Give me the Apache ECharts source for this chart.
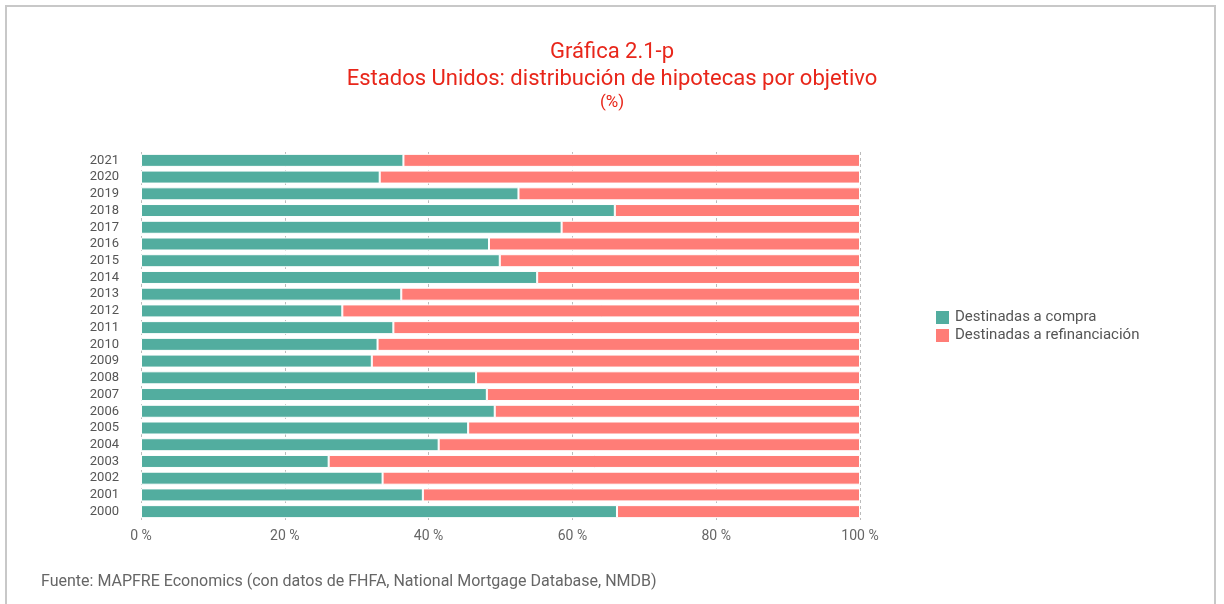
<!DOCTYPE html>
<html><head><meta charset="utf-8">
<script src="https://cdn.jsdelivr.net/npm/echarts@6/dist/echarts.min.js"></script>
<style>html,body{margin:0;padding:0;background:#fff}#c{width:1224px;height:604px}</style>
</head><body><div id="c"></div>
<script>
const years = ['2000','2001','2002','2003','2004','2005','2006','2007','2008','2009','2010','2011','2012','2013','2014','2015','2016','2017','2018','2019','2020','2021'];
const compra = [66.2, 39.2, 33.6, 26.1, 41.4, 45.5, 49.2, 48.1, 46.6, 32.1, 32.9, 35.1, 28.0, 36.2, 55.1, 49.9, 48.4, 58.5, 65.9, 52.5, 33.2, 36.5];
const refinanciacion = compra.map(v => +(100 - v).toFixed(1));
const xTicks = ['0 %','20 %','40 %','60 %','80 %','100 %'];
const seriesNames = ['Destinadas a compra','Destinadas a refinanciación'];

const FONT = 'Roboto, "Liberation Sans Narrow", "DejaVu Sans", sans-serif';
const chart = echarts.init(document.getElementById('c'), null, {renderer:'canvas'});
chart.setOption({
  animation:false,
  textStyle:{fontFamily:FONT},
  title:{
    left:'center', top:34, itemGap:1,
    text:'Gráfica 2.1-p\nEstados Unidos: distribución de hipotecas por objetivo',
    textStyle:{color:'#e8261a', fontSize:22, fontWeight:'normal', lineHeight:27, fontFamily:FONT},
    subtext:'(%)',
    subtextStyle:{color:'#e8261a', fontSize:17, fontWeight:'normal', fontFamily:FONT}
  },
  legend:{
    orient:'vertical', left:929, top:304, itemWidth:15, itemHeight:15, itemGap:1,
    icon:'rect',
    textStyle:{color:'#555', fontSize:15, fontFamily:FONT},
    data:seriesNames
  },
  grid:{left:141, right:364, top:152, bottom:84, containLabel:false},
  xAxis:{
    type:'value', min:0, max:100, interval:20,
    axisLine:{show:false}, axisTick:{show:false},
    splitLine:{show:true, lineStyle:{color:'#bbb', type:[3,3], width:1}},
    axisLabel:{color:'#666', fontSize:14, margin:9, formatter:(v)=>xTicks[v/20]}
  },
  yAxis:{
    type:'category', data:years,
    axisLine:{show:false}, axisTick:{show:false},
    axisLabel:{color:'#555', fontSize:13, margin:22, interval:0, lineHeight:14}
  },
  series:[
    {name:seriesNames[0], type:'bar', stack:'s', data:compra, barWidth:13,
     itemStyle:{color:'#52ad9f', borderColor:'#fff', borderWidth:1}},
    {name:seriesNames[1], type:'bar', stack:'s', data:refinanciacion, barWidth:13,
     itemStyle:{color:'#ff7d77', borderColor:'#fff', borderWidth:1}}
  ],
  graphic:[
    {type:'polyline', shape:{points:[[6,604],[6,6],[1215,6],[1215,604]]}, style:{stroke:'#c8c8c8', lineWidth:2, fill:null}},
    {type:'text', left:41, top:574, style:{text:'Fuente: MAPFRE Economics (con datos de FHFA, National Mortgage Database, NMDB)', fill:'#666', font:'16px '+FONT}}
  ]
});
</script>
</body></html>
